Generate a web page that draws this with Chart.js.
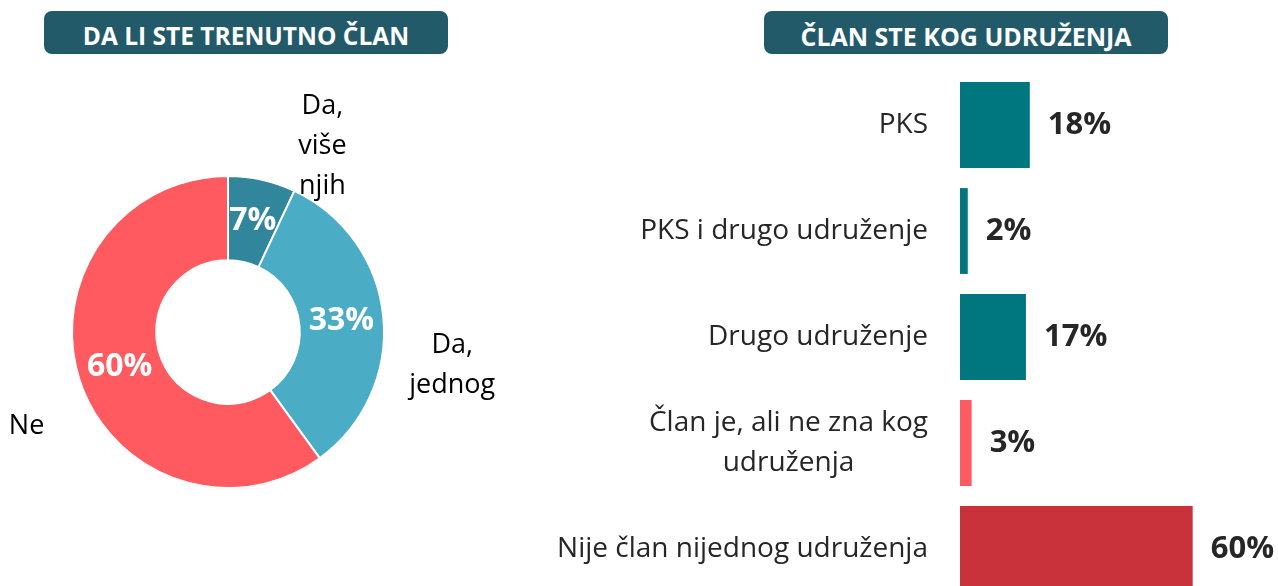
<!DOCTYPE html>
<html>
<head>
<meta charset="utf-8">
<script src="https://cdn.jsdelivr.net/npm/chart.js@4"></script>
<style>
  html, body { margin: 0; padding: 0; background: #fff; width: 1278px; height: 586px; overflow: hidden; position: relative; font-family: "Open Sans", sans-serif; }
  .title { position: absolute; top: 11px; height: 43px; background: #225a6a; border-radius: 8px; color: #fff; font-weight: bold; line-height: 50px; text-align: center; }
  #t1 { left: 44px; width: 404px; font-size: 24.5px; }
  #t2 { left: 764px; width: 404px; font-size: 25px; }
  #pieChart { position: absolute; left: 0; top: 60px; }
  #barChart { position: absolute; left: 540px; top: 60px; }
</style>
</head>
<body>
<div class="title" id="t1">DA LI STE TRENUTNO ČLAN</div>
<div class="title" id="t2">ČLAN STE KOG UDRUŽENJA</div>
<canvas id="pieChart" width="540" height="526"></canvas>
<canvas id="barChart" width="738" height="542"></canvas>
<script>
// pie data
const pieLabels = [["Da,", "više", "njih"], ["Da,", "jednog"], ["Ne"]];
const pieValues = [7, 33, 60];
const pieColors = ["#31869b", "#4bacc6", "#ff5a5f"];

// bar data
const barLabels = ["PKS", "PKS i drugo udruženje", "Drugo udruženje", ["Član je, ali ne zna kog", "udruženja"], "Nije član nijednog udruženja"];
const barValues = [18, 2, 17, 3, 60];
const barColors = ["#00767f", "#00767f", "#00767f", "#ff5a5f", "#c9313b"];

// where the outside pie labels sit, relative to the arc direction
const outsideOffsets = [[56, -14], [49, 50], [-34, 40]];

const pieLabelPlugin = {
  id: "pieLabels",
  afterDatasetsDraw(chart) {
    const ctx = chart.ctx;
    const meta = chart.getDatasetMeta(0);
    ctx.save();
    meta.data.forEach((arc, i) => {
      const p = arc.tooltipPosition();
      ctx.fillStyle = "#fff";
      ctx.font = "bold 32px 'Open Sans'";
      ctx.textAlign = "center";
      ctx.textBaseline = "middle";
      ctx.fillText(pieValues[i] + "%", p.x, p.y);

      const mid = (arc.startAngle + arc.endAngle) / 2;
      const r = arc.outerRadius + 20;
      const x = arc.x + Math.cos(mid) * r + outsideOffsets[i][0];
      const y = arc.y + Math.sin(mid) * r + outsideOffsets[i][1];
      const lines = pieLabels[i];
      const lh = 40;
      ctx.fillStyle = "#000";
      ctx.font = "27px 'Open Sans'";
      lines.forEach((line, j) => {
        ctx.fillText(line, x, y + (j - (lines.length - 1) / 2) * lh);
      });
    });
    ctx.restore();
  }
};

new Chart(document.getElementById("pieChart"), {
  type: "doughnut",
  data: {
    labels: pieLabels.map(l => l.join(" ")),
    datasets: [{
      data: pieValues,
      backgroundColor: pieColors,
      borderColor: "#fff",
      borderWidth: 2
    }]
  },
  options: {
    responsive: false,
    animation: false,
    cutout: "46%",
    layout: { padding: { left: 71, top: 115, right: 155, bottom: 97 } },
    plugins: { legend: { display: false }, tooltip: { enabled: false } }
  },
  plugins: [pieLabelPlugin]
});

// category labels (multi-line ones are centred on themselves) and bar values
const barTextPlugin = {
  id: "barText",
  afterDatasetsDraw(chart) {
    const ctx = chart.ctx;
    const meta = chart.getDatasetMeta(0);
    const yScale = chart.scales.y;
    const right = yScale.right - 32;
    ctx.save();
    ctx.textBaseline = "middle";

    ctx.fillStyle = "#262626";
    ctx.font = "28px 'Open Sans'";
    barLabels.forEach((label, i) => {
      const y = yScale.getPixelForTick(i);
      const lines = Array.isArray(label) ? label : [label];
      const w = Math.max(...lines.map(l => ctx.measureText(l).width));
      ctx.textAlign = "center";
      lines.forEach((line, j) => {
        ctx.fillText(line, right - w / 2, y + (j - (lines.length - 1) / 2) * 40);
      });
    });

    ctx.font = "bold 31px 'Open Sans'";
    ctx.textAlign = "left";
    meta.data.forEach((bar, i) => {
      ctx.fillText(barValues[i] + "%", bar.x + 18, bar.y);
    });
    ctx.restore();
  }
};

new Chart(document.getElementById("barChart"), {
  type: "bar",
  data: {
    labels: barLabels,
    datasets: [{
      data: barValues,
      backgroundColor: barColors,
      barPercentage: 0.81,
      categoryPercentage: 1
    }]
  },
  options: {
    indexAxis: "y",
    responsive: false,
    animation: false,
    layout: { padding: { top: 12, right: 0, bottom: 0 } },
    scales: {
      x: { display: false, min: 0, max: 82 },
      y: {
        afterFit(scale) {
          scale.width = 420;
          scale.paddingTop = 0;
          scale.paddingBottom = 0;
        },
        grid: { display: false, drawTicks: false },
        border: { display: false },
        ticks: { display: false }
      }
    },
    plugins: { legend: { display: false }, tooltip: { enabled: false } }
  },
  plugins: [barTextPlugin]
});
</script>
</body>
</html>
